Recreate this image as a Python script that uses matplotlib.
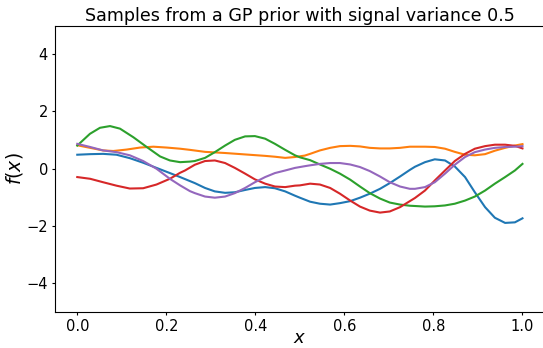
import matplotlib

matplotlib.use("Agg")
import matplotlib.pyplot as plt

# Five GP prior samples.
x_blue = [0.0, 0.029, 0.058, 0.088, 0.118, 0.148, 0.178, 0.208, 0.231, 0.253,
          0.264, 0.287, 0.309, 0.332, 0.354, 0.377, 0.399, 0.422, 0.444, 0.467,
          0.489, 0.5, 0.523, 0.545, 0.568, 0.59, 0.613, 0.635, 0.657, 0.68,
          0.702, 0.725, 0.747, 0.7585, 0.781, 0.803, 0.826, 0.848, 0.871, 0.893,
          0.916, 0.938, 0.961, 0.983, 1.0]
y_blue = [0.49, 0.51, 0.52, 0.49, 0.37, 0.21, 0.03, -0.15, -0.29, -0.43,
          -0.5, -0.67, -0.79, -0.84, -0.82, -0.74, -0.67, -0.64, -0.68, -0.79,
          -0.94, -1.01, -1.15, -1.22, -1.25, -1.2, -1.13, -1.01, -0.87, -0.7,
          -0.5, -0.27, -0.04, 0.07, 0.23, 0.33, 0.29, 0.08, -0.29, -0.82,
          -1.34, -1.71, -1.89, -1.87, -1.73]

x_orange = [0.0, 0.029, 0.058, 0.081, 0.111, 0.141, 0.171, 0.201, 0.231, 0.253,
            0.287, 0.332, 0.377, 0.422, 0.444, 0.467, 0.489, 0.511, 0.523, 0.545,
            0.568, 0.59, 0.613, 0.635, 0.657, 0.68, 0.702, 0.725, 0.747, 0.781,
            0.803, 0.826, 0.848, 0.871, 0.893, 0.916, 0.938, 0.961, 0.983, 1.0]
y_orange = [0.82, 0.73, 0.64, 0.62, 0.67, 0.74, 0.77, 0.74, 0.7, 0.66,
            0.59, 0.55, 0.5, 0.45, 0.42, 0.38, 0.41, 0.46, 0.52, 0.64,
            0.73, 0.79, 0.8, 0.78, 0.73, 0.71, 0.71, 0.73, 0.77, 0.77,
            0.76, 0.7, 0.59, 0.49, 0.47, 0.51, 0.63, 0.73, 0.81, 0.86]

x_green = [0.0, 0.0285, 0.051, 0.0735, 0.096, 0.126, 0.156, 0.186, 0.208, 0.231,
           0.253, 0.264, 0.287, 0.309, 0.332, 0.354, 0.377, 0.399, 0.422, 0.444,
           0.467, 0.489, 0.5, 0.523, 0.545, 0.568, 0.59, 0.613, 0.635, 0.657,
           0.68, 0.702, 0.725, 0.747, 0.77, 0.781, 0.803, 0.826, 0.848, 0.871,
           0.893, 0.916, 0.938, 0.961, 0.983, 1.0]
y_green = [0.81, 1.22, 1.43, 1.49, 1.4, 1.1, 0.76, 0.43, 0.29, 0.23,
           0.25, 0.27, 0.38, 0.58, 0.81, 1.01, 1.13, 1.14, 1.05, 0.87,
           0.66, 0.47, 0.4, 0.3, 0.15, 0.0, -0.17, -0.38, -0.62, -0.85,
           -1.04, -1.18, -1.25, -1.29, -1.31, -1.32, -1.31, -1.28, -1.22, -1.11,
           -0.97, -0.76, -0.52, -0.29, -0.06, 0.17]

x_red = [0.0, 0.029, 0.058, 0.088, 0.118, 0.148, 0.178, 0.208, 0.231, 0.242,
         0.264, 0.287, 0.309, 0.332, 0.354, 0.377, 0.399, 0.422, 0.444, 0.467,
         0.489, 0.5, 0.523, 0.545, 0.568, 0.59, 0.613, 0.635, 0.657, 0.68,
         0.702, 0.725, 0.747, 0.7585, 0.781, 0.803, 0.826, 0.848, 0.871, 0.893,
         0.916, 0.938, 0.961, 0.983, 1.0]
y_red = [-0.29, -0.35, -0.47, -0.59, -0.69, -0.68, -0.55, -0.35, -0.14, -0.06,
         0.14, 0.27, 0.29, 0.2, 0.03, -0.17, -0.37, -0.52, -0.62, -0.64,
         -0.59, -0.58, -0.52, -0.55, -0.67, -0.87, -1.11, -1.32, -1.46, -1.53,
         -1.49, -1.34, -1.13, -1.02, -0.76, -0.41, -0.06, 0.27, 0.52, 0.7,
         0.79, 0.84, 0.84, 0.8, 0.71]

x_purple = [0.0, 0.029, 0.058, 0.088, 0.118, 0.148, 0.178, 0.208, 0.231, 0.253,
            0.264, 0.287, 0.309, 0.332, 0.354, 0.377, 0.399, 0.422, 0.444, 0.467,
            0.489, 0.511, 0.523, 0.545, 0.568, 0.59, 0.613, 0.635, 0.657, 0.68,
            0.702, 0.725, 0.747, 0.7585, 0.781, 0.803, 0.826, 0.848, 0.871, 0.893,
            0.916, 0.938, 0.961, 0.983, 1.0]
y_purple = [0.87, 0.76, 0.64, 0.58, 0.47, 0.27, 0.0, -0.35, -0.58, -0.78,
            -0.85, -0.97, -1.01, -0.97, -0.85, -0.67, -0.47, -0.29, -0.15, -0.06,
            0.03, 0.09, 0.12, 0.17, 0.2, 0.2, 0.15, 0.06, -0.08, -0.27,
            -0.47, -0.62, -0.7, -0.7, -0.64, -0.47, -0.17, 0.14, 0.41, 0.58,
            0.67, 0.73, 0.76, 0.77, 0.79]

samples = [
    (x_blue, y_blue, "tab:blue"),
    (x_orange, y_orange, "tab:orange"),
    (x_green, y_green, "tab:green"),
    (x_red, y_red, "tab:red"),
    (x_purple, y_purple, "tab:purple"),
]

fig = plt.figure(figsize=(5.43, 3.48), dpi=100)
ax = fig.add_axes([0.1013, 0.1034, 0.9019, 0.8233])
for xs, ys, c in samples:
    ax.plot(xs, ys, color=c, lw=1.5)

ax.set_ylim(-5, 5)
ax.set_xlim(-0.05, 1.05)
ax.set_xticks([0.0, 0.2, 0.4, 0.6, 0.8, 1.0])
ax.set_yticks([-4, -2, 0, 2, 4])
ax.tick_params(labelsize=10.5, length=2.5, pad=2.5)
ax.set_xlabel("$x$", fontsize=13, labelpad=-3.5)
ax.set_ylabel("$f(x)$", fontsize=13.5, labelpad=1)
ax.set_title("Samples from a GP prior with signal variance 0.5", fontsize=12.6, pad=3)

fig.savefig("out.png", dpi=100)
